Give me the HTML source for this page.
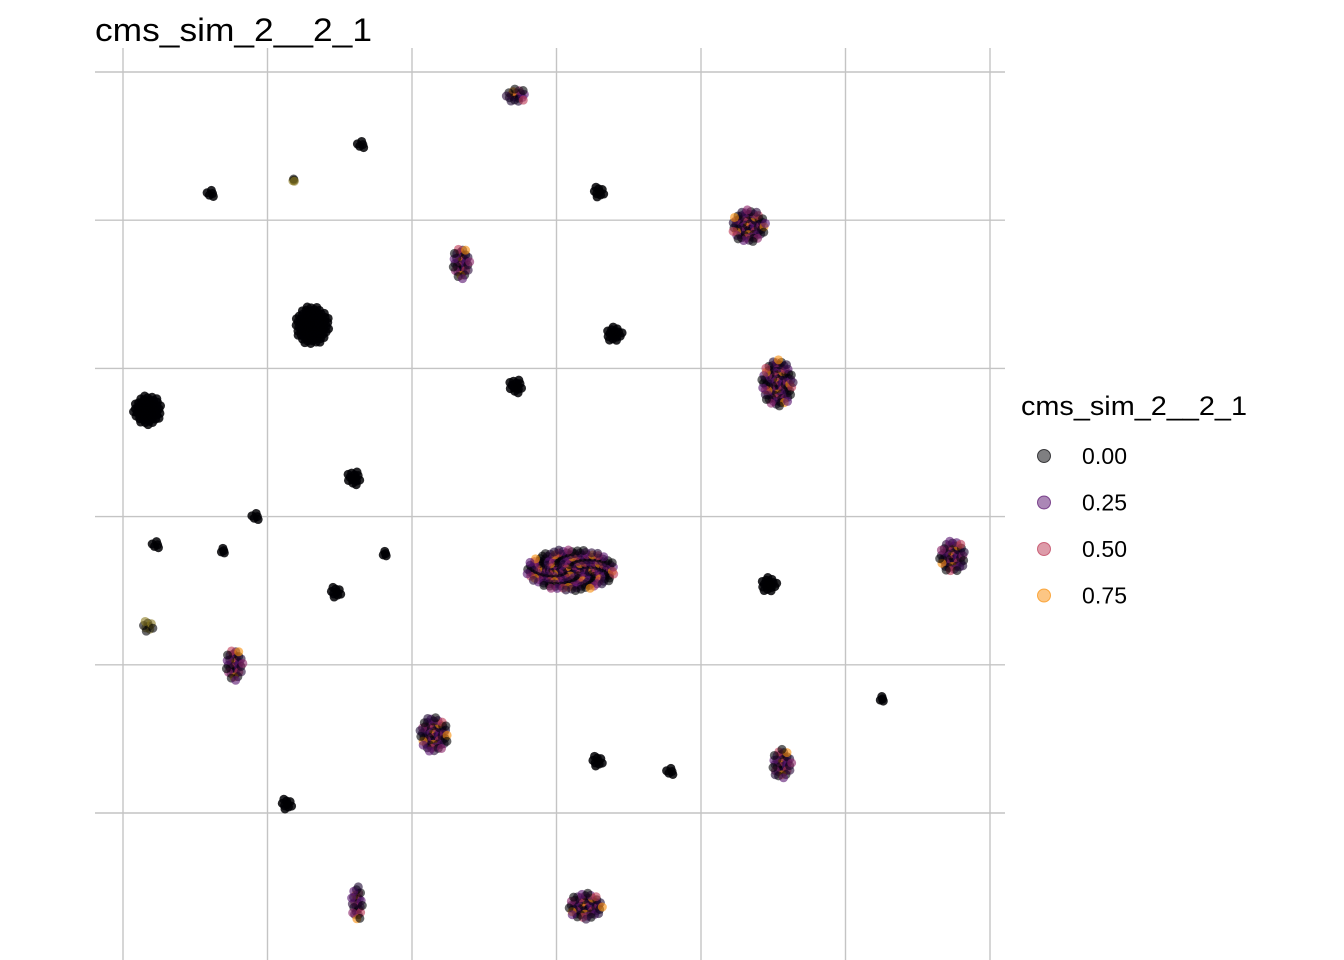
<!DOCTYPE html>
<html><head><meta charset="utf-8">
<style>
html,body{margin:0;padding:0;background:#fff;}
svg{display:block;font-family:"Liberation Sans",sans-serif;}
</style></head>
<body>
<svg id="chart" width="1344" height="960" viewBox="0 0 1344 960" xmlns="http://www.w3.org/2000/svg">
<text x="95" y="41" font-size="32" textLength="277" lengthAdjust="spacingAndGlyphs" fill="#000">cms_sim_2__2_1</text>
<g id="grid"></g>
<g id="points"></g>
<g id="legend">
<text x="1021" y="415" font-size="27" textLength="226" lengthAdjust="spacingAndGlyphs" fill="#000">cms_sim_2__2_1</text>
</g>
</svg>
<script>
// cluster data (data units: x grid 0..6, y grid 0..5)
const clusterX = [2.72,1.65,0.61,1.18,3.29,4.33,2.34,1.31,3.40,2.72,4.53,0.17,1.60,0.92,0.23,0.69,1.81,3.10,1.47,4.47,5.74,0.17,0.77,5.25,2.15,3.28,3.79,4.56,1.13,1.62,3.20];
const clusterY = [4.84,4.51,4.18,4.27,4.19,3.96,3.71,3.29,3.23,2.88,2.90,2.72,2.26,2.00,1.81,1.77,1.75,1.64,1.49,1.54,1.73,1.26,1.00,0.77,0.53,0.35,0.28,0.33,0.06,-0.61,-0.63];
const clusterW = [0.07,0.03,0.03,0.01,0.04,0.12,0.06,0.12,0.06,0.05,0.11,0.10,0.05,0.03,0.03,0.02,0.02,0.31,0.04,0.06,0.09,0.04,0.06,0.02,0.10,0.04,0.03,0.07,0.04,0.04,0.12];
const clusterH = [0.05,0.03,0.03,0.01,0.04,0.11,0.11,0.13,0.05,0.05,0.16,0.10,0.05,0.03,0.03,0.02,0.02,0.14,0.04,0.05,0.11,0.04,0.11,0.02,0.12,0.04,0.03,0.10,0.04,0.12,0.09];
const clusterType = [1,0,0,2,0,1,1,0,0,0,1,0,0,0,0,0,0,1,0,0,1,2,1,0,1,0,0,1,0,1,1];
const legendValues = ["0.00","0.25","0.50","0.75"];
const legendColors = ["#000004","#57106e","#bc3754","#f98e09"];
const xTicks = [0,1,2,3,4,5,6];
const yTicks = [0,1,2,3,4,5];

const NS="http://www.w3.org/2000/svg";
const xs = v => 123 + v*144.5;
const ys = v => 813 - v*148.2;
const grid=document.getElementById('grid');
xTicks.forEach(t=>{
  const l=document.createElementNS(NS,'line');
  l.setAttribute('x1',xs(t));l.setAttribute('x2',xs(t));l.setAttribute('y1',48);l.setAttribute('y2',960);
  l.setAttribute('stroke','#c4c4c4');l.setAttribute('stroke-width','1.4');
  
  
  grid.appendChild(l);
});
yTicks.forEach(t=>{
  const l=document.createElementNS(NS,'line');
  l.setAttribute('x1',95);l.setAttribute('x2',1005);l.setAttribute('y1',ys(t));l.setAttribute('y2',ys(t));
  l.setAttribute('stroke','#c4c4c4');l.setAttribute('stroke-width','1.4');
  
  
  grid.appendChild(l);
});
const pts=document.getElementById('points');
const mixPal=["#000004","#57106e","#1a0530","#000004","#bc3754","#2a0a3a","#000004","#f98e09","#57106e","#000004","#8a2267","#1a0530"];
clusterX.forEach((cx,i)=>{
  const g=document.createElementNS(NS,'g');
  
  
  const px=xs(cx), py=ys(clusterY[i]);
  const rx=clusterW[i]*144.5, ry=clusterH[i]*148.2;
  const n=Math.max(4,Math.round(rx*ry/4));
  for(let k=0;k<n;k++){
    const r=Math.sqrt((k+0.5)/n), a=k*2.39996;
    const c=document.createElementNS(NS,'circle');
    c.setAttribute('cx',px+r*rx*Math.cos(a));
    c.setAttribute('cy',py+r*ry*Math.sin(a));
    c.setAttribute('r',4.5);
    let col="#000004";
    if(clusterType[i]===1) col=mixPal[k%mixPal.length];
    if(clusterType[i]===2) col=(k%2?"#8a7a20":"#000004");
    c.setAttribute('fill',col);
    c.setAttribute('fill-opacity',clusterType[i]===0?0.85:0.6);
    
    
    g.appendChild(c);
  }
  pts.appendChild(g);
});
const leg=document.getElementById('legend');
legendValues.forEach((v,i)=>{
  const y=456+i*46.5;
  const c=document.createElementNS(NS,'circle');
  c.setAttribute('cx',1044);c.setAttribute('cy',y);c.setAttribute('r',6.5);
  c.setAttribute('fill',legendColors[i]);c.setAttribute('fill-opacity',0.5);
  c.setAttribute('stroke',legendColors[i]);c.setAttribute('stroke-opacity',0.7);
  
  
  leg.appendChild(c);
  const t=document.createElementNS(NS,'text');
  t.setAttribute('x',1082);t.setAttribute('y',y+8);t.setAttribute('font-size','23');
  t.setAttribute('textLength','45');
  t.textContent=v;
  
  
  leg.appendChild(t);
});
</script>
</body></html>
